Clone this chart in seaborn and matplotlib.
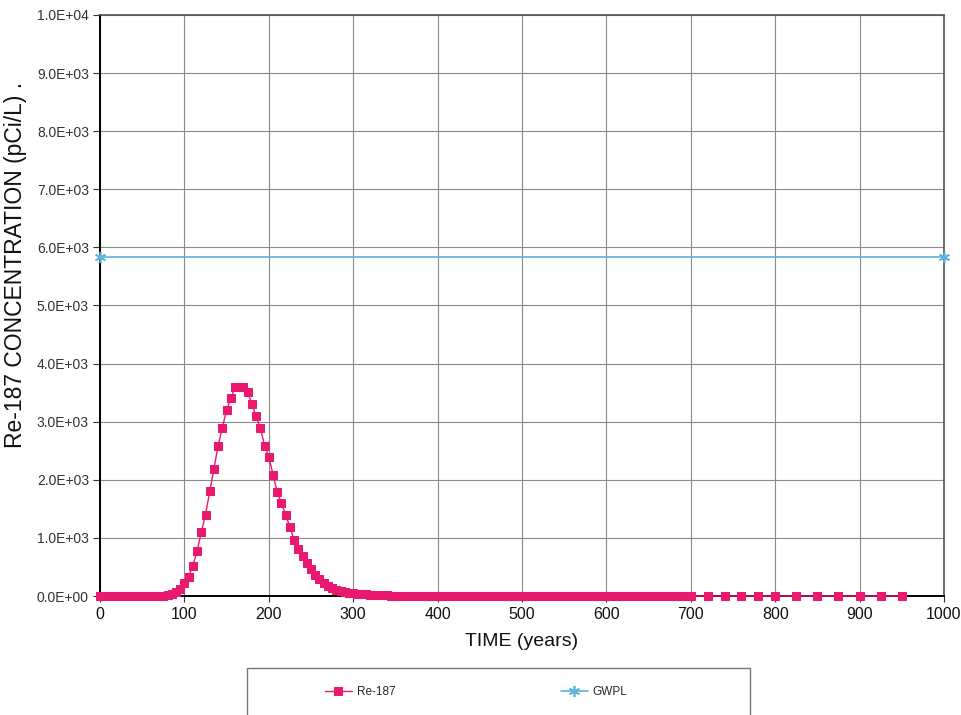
import seaborn as sns
import matplotlib.pyplot as plt
import pandas as pd
from matplotlib.patches import Rectangle
from matplotlib.ticker import FuncFormatter, MultipleLocator

RE_PINK = '#E8196F'
GWPL_BLUE = '#5AB4DC'

# Re-187 concentration (pCi/L)
re187_years = list(range(0, 705, 5)) + [720, 740, 760, 780, 800, 825, 850, 875, 900, 925, 950]
re187_conc = (
    [0] * 15
    + [5, 15, 40, 70, 120, 220, 330, 520, 770, 1100,
       1400, 1800, 2190, 2590, 2900, 3200, 3400, 3600, 3600, 3600,
       3510, 3300, 3090, 2890, 2590, 2400, 2090, 1790, 1600, 1390,
       1190, 960, 810, 680, 560, 460, 370, 290, 220, 165,
       130, 105, 85, 70, 58, 48, 40, 33, 27, 22,
       18, 15, 12, 10, 8, 6, 5, 4, 3, 3,
       2, 2, 1, 1, 1, 1]
    + [0] * 60
    + [0] * 11
)

# groundwater protection level
gwpl_years = [0, 1000]
gwpl_conc = [5840, 5840]

re_df = pd.DataFrame({'TIME': re187_years, 'CONC': re187_conc})
gw_df = pd.DataFrame({'TIME': gwpl_years, 'CONC': gwpl_conc})

sns.set_theme(style='whitegrid')
plt.rcParams['font.family'] = ['Liberation Sans', 'DejaVu Sans']

fig = plt.figure(figsize=(9.62, 7.15), dpi=100)
ax = fig.add_axes([100 / 962, 1 - 596 / 715, 844 / 962, 581 / 715])
ax.set_facecolor('white')

sns.lineplot(data=re_df, x='TIME', y='CONC', ax=ax, color=RE_PINK, lw=1.0,
             marker='s', markersize=5.5, markeredgecolor=RE_PINK, label='Re-187',
             clip_on=False, zorder=5)
sns.lineplot(data=gw_df, x='TIME', y='CONC', ax=ax, color=GWPL_BLUE, lw=1.2,
             marker=(6, 2, 0), markersize=8, markeredgecolor=GWPL_BLUE,
             markeredgewidth=1.2, label='GWPL', clip_on=False, zorder=5)

ax.set_xlim(0, 1000)
ax.set_ylim(0, 10000)
ax.xaxis.set_major_locator(MultipleLocator(100))
ax.yaxis.set_major_locator(MultipleLocator(1000))
ax.yaxis.set_major_formatter(FuncFormatter(lambda v, p: f'{v:.1E}'))

ax.grid(True, color='#8a8a8a', lw=0.8)
for side in ['left', 'bottom']:
    ax.spines[side].set_color('black')
    ax.spines[side].set_linewidth(1.4)
for side in ['top', 'right']:
    ax.spines[side].set_color('#555555')
    ax.spines[side].set_linewidth(1.2)

ax.tick_params(axis='y', left=True, length=5, width=0.8, color='#333333',
               labelsize=10, labelcolor='#333333', pad=3)
ax.tick_params(axis='x', bottom=True, length=4, width=0.8, color='#333333',
               labelsize=11.5, labelcolor='#111111', pad=4)

ax.set_xlabel('TIME (years)', fontsize=14, color='#111111', labelpad=8)
ax.set_ylabel('Re-187 CONCENTRATION (pCi/L) .', fontsize=16.5, color='#111111')
ax.yaxis.set_label_coords(-0.086, 0.57)

handles, labels = ax.get_legend_handles_labels()
ax.get_legend().remove()
fig.add_artist(Rectangle((247 / 962, -0.05), 503 / 962, 0.05 + 47 / 715,
                         transform=fig.transFigure, fill=False,
                         edgecolor='#777777', lw=1.0))
fig.legend(handles, labels, loc='center', bbox_to_anchor=(476 / 962, 1 - 692 / 715),
           ncol=2, frameon=False, fontsize=8.5, handlelength=2.3,
           handletextpad=0.4, columnspacing=14)

fig.savefig('out.png', dpi=100, facecolor='white')
